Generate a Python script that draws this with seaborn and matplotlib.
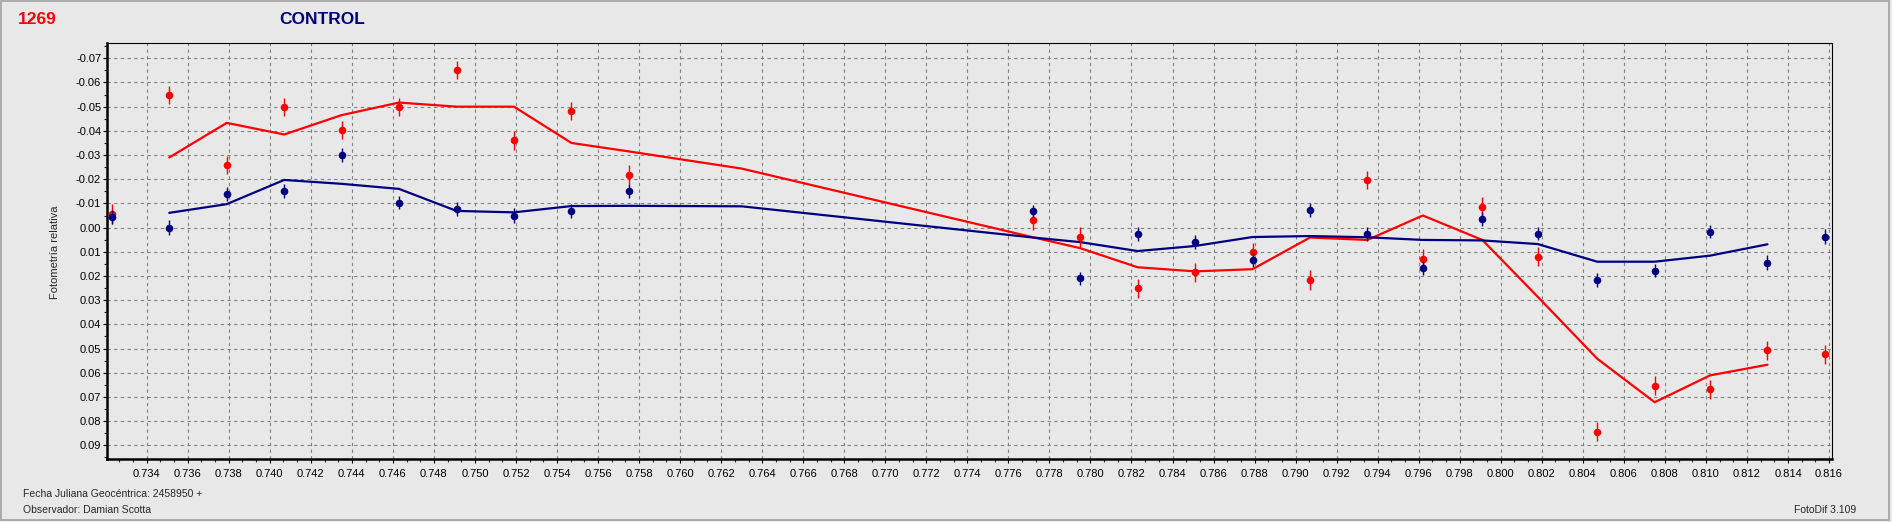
import numpy as np
import pandas as pd
import matplotlib.pyplot as plt
import matplotlib.ticker as mticker
from matplotlib.patches import Rectangle
import seaborn as sns

# Photometry points (JD offset from 2458950) - control stars
jd = [0.7323, 0.7351, 0.7379, 0.7407, 0.7435, 0.7463, 0.7491, 0.7519, 0.7547, 0.7575,
      0.7772, 0.7795, 0.7823, 0.7851, 0.7879, 0.7907, 0.7935, 0.7962, 0.7991, 0.8018,
      0.8047, 0.8075, 0.8102, 0.8130, 0.8158]
red_mag = [-0.0056, -0.0549, -0.0260, -0.0500, -0.0403, -0.0499, -0.0653, -0.0361, -0.0481, -0.0219,
           -0.0030, 0.0039, 0.0251, 0.0185, 0.0101, 0.0217, -0.0198, 0.0130, -0.0086, 0.0120,
           0.0844, 0.0653, 0.0669, 0.0508, 0.0524]
red_err = [0.0040, 0.0036, 0.0038, 0.0037, 0.0038, 0.0037, 0.0037, 0.0040, 0.0038, 0.0038,
           0.0040, 0.0040, 0.0040, 0.0040, 0.0038, 0.0040, 0.0038, 0.0040, 0.0040, 0.0040,
           0.0040, 0.0040, 0.0040, 0.0040, 0.0040]
blue_mag = [-0.0044, 0.0000, -0.0139, -0.0151, -0.0301, -0.0103, -0.0076, -0.0049, -0.0068, -0.0153,
            -0.0069, 0.0210, 0.0026, 0.0060, 0.0135, -0.0073, 0.0026, 0.0166, -0.0036, 0.0025,
            0.0216, 0.0178, 0.0017, 0.0145, 0.0037]
blue_err = [0.0030, 0.0030, 0.0030, 0.0028, 0.0030, 0.0028, 0.0028, 0.0030, 0.0028, 0.0029,
            0.0026, 0.0028, 0.0028, 0.0028, 0.0028, 0.0028, 0.0028, 0.0028, 0.0028, 0.0028,
            0.0028, 0.0028, 0.0028, 0.0030, 0.0030]

# running-average curves
line_jd = [0.7351, 0.7379, 0.7407, 0.7435, 0.7463, 0.7491, 0.7519, 0.7547, 0.7575, 0.7630,
           0.7772, 0.7795, 0.7823, 0.7851, 0.7879, 0.7907, 0.7935, 0.7962, 0.7991, 0.8018,
           0.8047, 0.8075, 0.8102, 0.8130]
red_line = [-0.0290, -0.0433, -0.0385, -0.0465, -0.0517, -0.0500, -0.0500, -0.0350, -0.0315, -0.0244,
            0.0040, 0.0085, 0.0164, 0.0181, 0.0172, 0.0041, 0.0051, -0.0050, 0.0051, 0.0286,
            0.0542, 0.0722, 0.0611, 0.0567]
blue_line = [-0.0061, -0.0097, -0.0197, -0.0181, -0.0160, -0.0069, -0.0063, -0.0089, -0.0090, -0.0088,
             0.0041, 0.0060, 0.0097, 0.0076, 0.0039, 0.0035, 0.0040, 0.0051, 0.0053, 0.0068,
             0.0141, 0.0141, 0.0116, 0.0069]

x_ticks = np.round(np.arange(0.734, 0.8161, 0.002), 3)
y_ticks = np.round(np.arange(-0.07, 0.0901, 0.01), 2)

RED = '#FF0000'
NAVY = '#000080'
BG = '#E8E8E8'

sns.set_style('white')
plt.rcParams['font.family'] = ['Liberation Sans', 'DejaVu Sans']

W, H = 1892, 522
fig = plt.figure(figsize=(W / 100, H / 100), dpi=100, facecolor=BG)
ax = fig.add_axes([106.7 / W, 1 - 459.3 / H, (1831.7 - 106.7) / W, (459.3 - 43.3) / H])
ax.set_facecolor(BG)

pts = pd.DataFrame({'jd': jd, 'red': red_mag, 'blue': blue_mag})
curves = pd.DataFrame({'jd': line_jd, 'red': red_line, 'blue': blue_line})

sns.lineplot(data=curves, x='jd', y='red', color=RED, linewidth=1.6, sort=False,
             estimator=None, ax=ax, zorder=3)
sns.lineplot(data=curves, x='jd', y='blue', color=NAVY, linewidth=1.6, sort=False,
             estimator=None, ax=ax, zorder=3)

ax.errorbar(jd, red_mag, yerr=red_err, fmt='none', ecolor=RED, elinewidth=1.0, capsize=0, zorder=4)
sns.scatterplot(data=pts, x='jd', y='red', color=RED, s=30, marker='o', linewidth=0, ax=ax, zorder=5)
ax.errorbar(jd, blue_mag, yerr=blue_err, fmt='none', ecolor=NAVY, elinewidth=1.0, capsize=0, zorder=6)
sns.scatterplot(data=pts, x='jd', y='blue', color=NAVY, s=30, marker='o', linewidth=0, ax=ax, zorder=7)

ax.set_xlim(0.73205, 0.81613)
ax.set_ylim(0.0958, -0.0762)

ax.xaxis.set_major_locator(mticker.FixedLocator(x_ticks))
ax.xaxis.set_minor_locator(mticker.MultipleLocator(0.002 / 3))
ax.set_xticklabels(['{:.3f}'.format(v) for v in x_ticks])
ax.yaxis.set_major_locator(mticker.FixedLocator(y_ticks))
ax.yaxis.set_minor_locator(mticker.MultipleLocator(0.005))
ax.set_yticklabels(['{:.2f}'.format(v) if v != 0 else '0.00' for v in y_ticks])

ax.tick_params(axis='x', which='major', direction='out', length=3, width=0.8, pad=4,
               labelsize=8, colors='black', bottom=True)
ax.tick_params(axis='x', which='minor', direction='out', length=2, width=0.8, bottom=True)
ax.tick_params(axis='y', which='major', direction='out', length=3, width=0.8, pad=1,
               labelsize=8, colors='black', left=True)
ax.tick_params(axis='y', which='minor', direction='out', length=2, width=0.8, left=True)

ax.grid(True, which='major', color='#808080', linestyle=(0, (3, 3)), linewidth=0.8)
ax.set_axisbelow(True)

for side in ['left', 'bottom']:
    ax.spines[side].set_linewidth(1.8)
    ax.spines[side].set_color('black')
for side in ['top', 'right']:
    ax.spines[side].set_linewidth(0.8)
    ax.spines[side].set_color('black')
    ax.spines[side].set_visible(True)

ax.set_xlabel('')
ax.set_ylabel('')

# header / footer texts (pixel placement)
fig.text(18 / W, 1 - 19 / H, '1269', color=RED, fontweight='bold', fontsize=12.5,
         ha='left', va='center')
fig.text(279 / W, 1 - 19 / H, 'CONTROL', color=NAVY, fontweight='bold', fontsize=12.5,
         ha='left', va='center')
fig.text(54.7 / W, 1 - 252 / H, 'Fotometría relativa', rotation=90, fontsize=8,
         ha='center', va='center')
fig.text(23 / W, 1 - 494 / H, 'Fecha Juliana Geocéntrica: 2458950 +', fontsize=7.5,
         ha='left', va='center')
fig.text(23 / W, 1 - 510 / H, 'Observador: Damian Scotta', fontsize=7.5,
         ha='left', va='center')
fig.text(1856 / W, 1 - 510 / H, 'FotoDif 3.109', fontsize=7.5, ha='right', va='center')

fig.patches.append(Rectangle((1 / W, 2 / H), 1888 / W, 519 / H, transform=fig.transFigure,
                             fill=False, edgecolor='#A0A0A0', linewidth=1.2))

fig.savefig('out.png', dpi=100, facecolor=BG)
